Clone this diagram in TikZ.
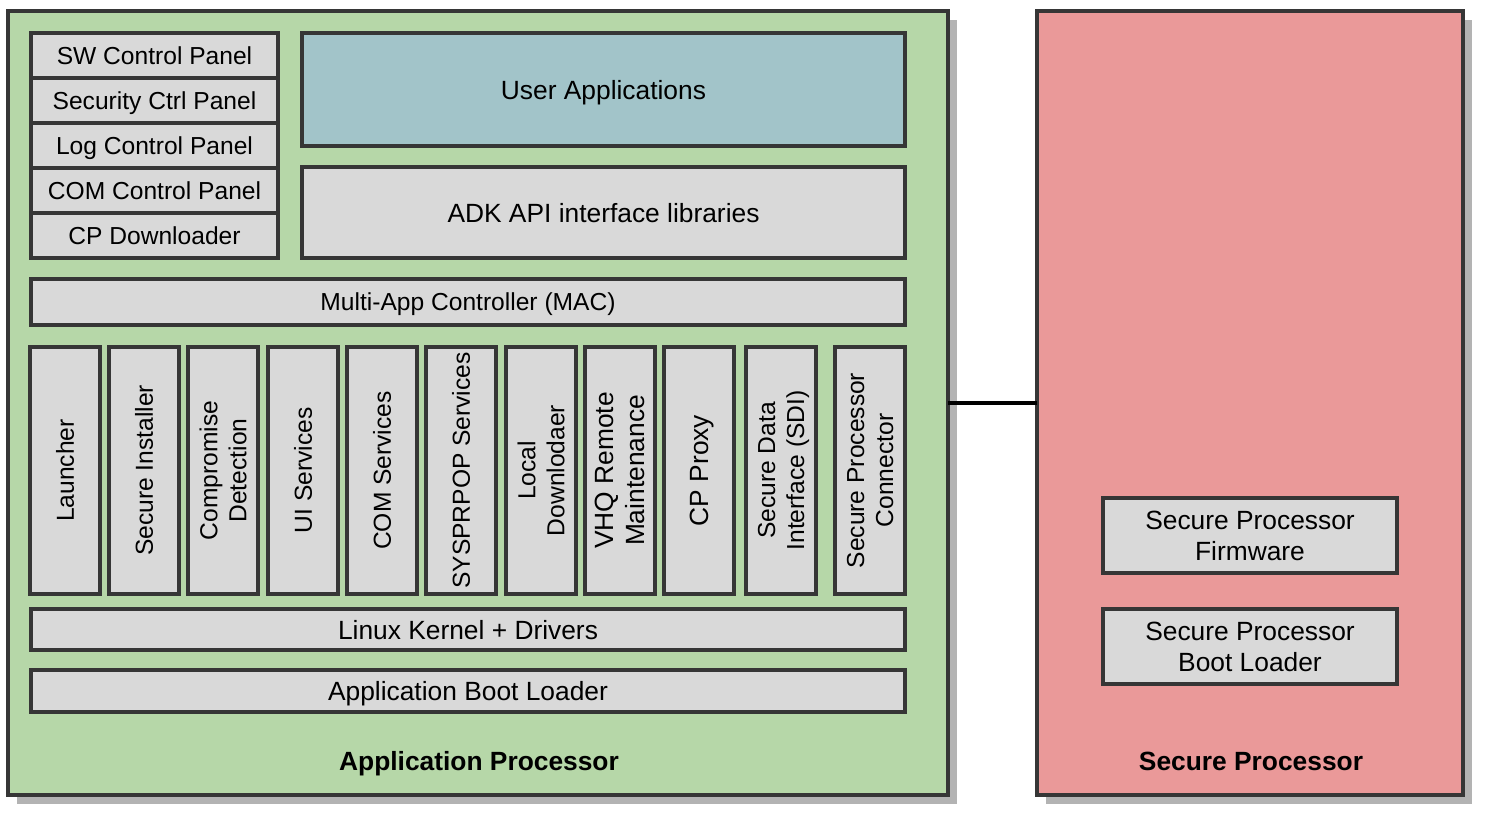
\documentclass[tikz,border=0pt]{standalone}
\usepackage{fontspec}
\setmainfont{Liberation Sans}
\usepackage{tikz}
\usetikzlibrary{positioning, shadows}

\definecolor{apgreen}{HTML}{B6D7A8}
\definecolor{spred}{HTML}{EA9999}
\definecolor{appteal}{HTML}{A2C4C9}
\definecolor{boxgrey}{HTML}{D9D9D9}
\definecolor{edgegrey}{HTML}{363636}
\definecolor{shadowgrey}{HTML}{B3B3B3}

\begin{document}
\begin{tikzpicture}[
        x=0.02cm, y=-0.02cm,
        procbox/.style={rectangle, draw=edgegrey, line width=0.07cm, outer sep=0pt, minimum height=15.68cm,
            drop shadow={shadow xshift=0.18cm, shadow yshift=-0.18cm, fill=shadowgrey, opacity=1}},
        block/.style={rectangle, draw=edgegrey, fill=boxgrey, line width=0.075cm, outer sep=0pt, inner sep=1pt,
            text depth=0pt, align=center, font=\fontsize{14}{16.5}\selectfont},
        bigblock/.style={block, font=\fontsize{15}{17.5}\selectfont},
        panel/.style={block, minimum width=4.94cm, minimum height=0.9cm},
        vblock/.style={block, rotate=90, minimum width=4.94cm, minimum height=1.4cm},
        title/.style={text depth=0pt, font=\bfseries\fontsize{15}{18}\selectfont},
        link/.style={draw=black, line width=0.07cm}
    ]
        \useasboundingbox (0,0) rectangle (1491,823);
        % Processors
        \node[procbox, fill=apgreen, minimum width=18.8cm] (appproc) at (478,403) {};
        \node[procbox, fill=spred, minimum width=8.52cm] (secproc) at (1250,403) {};
        \node[title] (aptitle) at (479,761) {Application Processor};
        \node[title] (sptitle) at (1251,761) {Secure Processor};
        % Control panels
        \node[panel] (swpanel) at (154.5,55.5) {SW Control Panel};
        \node[panel, below=0pt of swpanel] (secpanel) {Security Ctrl Panel};
        \node[panel, below=0pt of secpanel] (logpanel) {Log Control Panel};
        \node[panel, below=0pt of logpanel] (companel) {COM Control Panel};
        \node[panel, below=0pt of companel] (cpdl) {CP Downloader};
        % Application layer
        \node[bigblock, fill=appteal, minimum width=12.06cm, minimum height=2.26cm] (userapps) at (603.5,89.5) {User Applications};
        \node[bigblock, minimum width=12.06cm, minimum height=1.82cm] (adk) at (603.5,212.5) {ADK API interface libraries};
        \node[block, minimum width=17.48cm, minimum height=0.92cm] (mac) at (468,302) {Multi-App Controller (MAC)};
        % Services
        \node[vblock] (launcher) at (65,470.5) {Launcher};
        \node[vblock] (installer) at (144,470.5) {Secure Installer};
        \node[vblock] (compromise) at (223,470.5) {Compromise\\Detection};
        \node[vblock] (uisrv) at (303,470.5) {UI Services};
        \node[vblock] (comsrv) at (382,470.5) {COM Services};
        \node[vblock] (syssrv) at (461,470.5) {SYSPRPOP Services};
        \node[vblock] (localdl) at (541,470.5) {Local\\Downlodaer};
        \node[vblock, font=\fontsize{15}{17.5}\selectfont] (vhq) at (620,470.5) {VHQ Remote\\Maintenance};
        \node[vblock, font=\fontsize{15}{17.5}\selectfont] (cpproxy) at (699,470.5) {CP Proxy};
        \node[vblock] (sdi) at (781,470.5) {Secure Data\\Interface (SDI)};
        \node[vblock] (spconn) at (870,470.5) {Secure Processor\\Connector};
        % Base layers
        \node[bigblock, minimum width=17.48cm, minimum height=0.82cm] (kernel) at (468,629.5) {Linux Kernel + Drivers};
        \node[bigblock, minimum width=17.48cm, minimum height=0.84cm] (bootldr) at (468,691) {Application Boot Loader};
        % Secure processor contents
        \node[bigblock, minimum width=5.88cm, minimum height=1.5cm] (spfw) at (1250,535.5) {Secure Processor\\Firmware};
        \node[bigblock, minimum width=5.88cm, minimum height=1.5cm] (spboot) at (1250,646.5) {Secure Processor\\Boot Loader};
        % Link
        \draw[link] (appproc) -- (secproc);
    \end{tikzpicture}
\end{document}
